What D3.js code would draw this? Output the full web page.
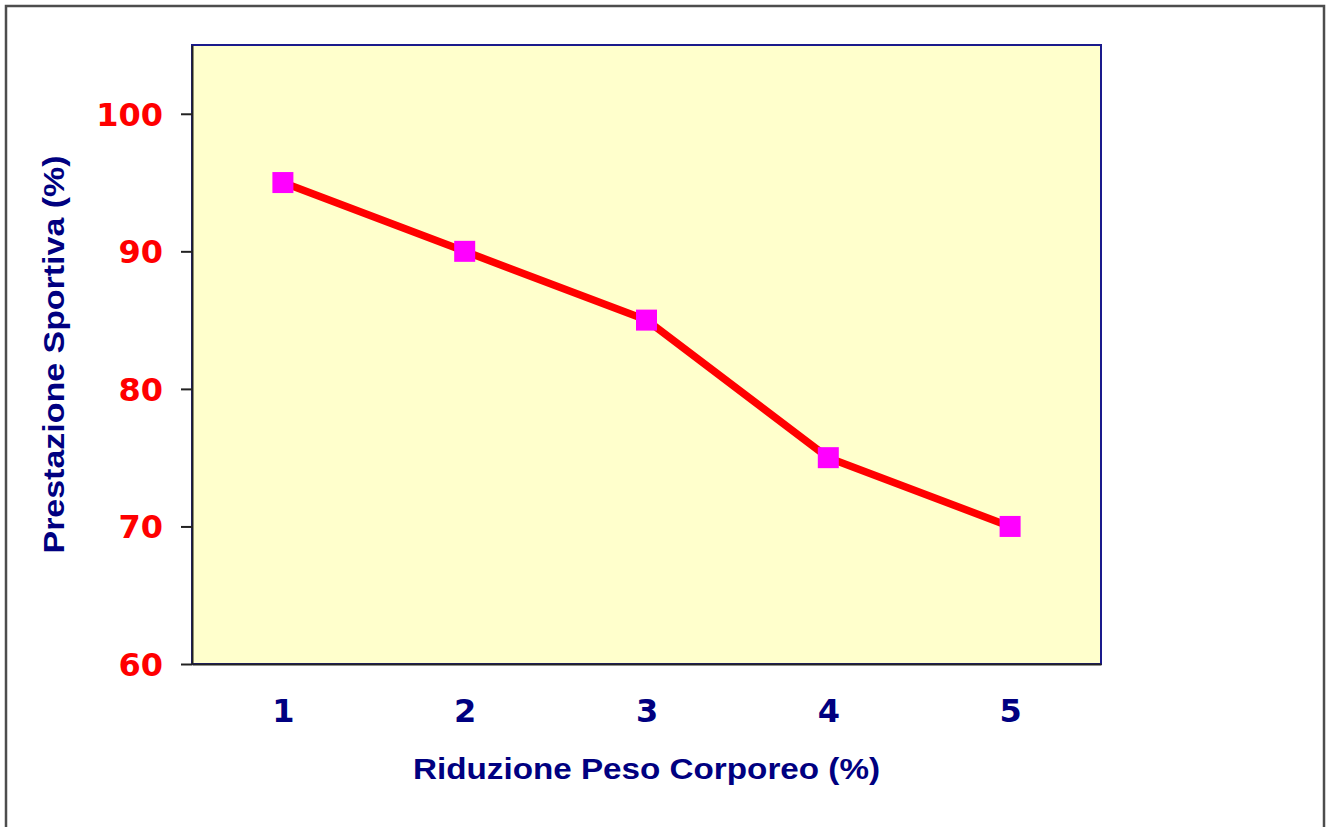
<!DOCTYPE html>
<html>
<head>
<meta charset="utf-8">
<script src="https://cdn.jsdelivr.net/npm/d3@7"></script>
<style>
  html, body { margin: 0; padding: 0; background: #fff; }
  svg { display: block; }
</style>
</head>
<body>
<div id="chart"></div>
<script>
// dati
var categories = [1, 2, 3, 4, 5];
var values = [95, 90, 85, 75, 70];
var yTicks = [60, 70, 80, 90, 100];

var W = 1330, H = 827;
var plot = { left: 192, top: 45, right: 1101, bottom: 664 };

var svg = d3.select("#chart").append("svg").attr("width", W).attr("height", H);

// cornice esterna
svg.append("rect")
  .attr("x", 6).attr("y", 6).attr("width", 1318).attr("height", 830)
  .attr("fill", "#fff").attr("stroke", "#4d4d4d").attr("stroke-width", 2.5);

var x = d3.scalePoint().domain(categories).range([plot.left, plot.right]).padding(0.5);
var y = d3.scaleLinear().domain([60, 105]).range([plot.bottom, plot.top]);

// area del grafico
svg.append("rect")
  .attr("x", plot.left).attr("y", plot.top)
  .attr("width", plot.right - plot.left).attr("height", plot.bottom - plot.top)
  .attr("fill", "#ffffcc").attr("stroke", "#1a1a8c").attr("stroke-width", 2);

// asse Y
var yAxis = svg.append("g").attr("transform", "translate(" + plot.left + ",0)")
  .call(d3.axisLeft(y).tickValues(yTicks).tickSize(11).tickPadding(18).tickSizeOuter(0));
yAxis.select(".domain").attr("stroke", "#222").attr("stroke-width", 2);
yAxis.selectAll(".tick line").attr("stroke", "#222").attr("stroke-width", 2);
yAxis.selectAll("text")
  .attr("fill", "#ff0000").attr("font-family", "DejaVu Sans").attr("font-weight", "bold")
  .attr("font-size", 32).attr("dy", "0.36em");

// asse X (solo etichette)
var xAxis = svg.append("g").attr("transform", "translate(0," + plot.bottom + ")")
  .call(d3.axisBottom(x).tickSize(0).tickPadding(35));
xAxis.select(".domain").attr("stroke", "#222").attr("stroke-width", 2);
xAxis.selectAll("text")
  .attr("fill", "#000080").attr("font-family", "DejaVu Sans").attr("font-weight", "bold")
  .attr("font-size", 32);

// titoli assi
svg.append("text")
  .attr("x", (plot.left + plot.right) / 2).attr("y", 779)
  .attr("text-anchor", "middle")
  .attr("fill", "#000080").attr("font-family", "Liberation Sans").attr("font-weight", "bold")
  .attr("font-size", 29)
  .attr("textLength", 467).attr("lengthAdjust", "spacingAndGlyphs")
  .text("Riduzione Peso Corporeo (%)");

svg.append("text")
  .attr("transform", "translate(64," + (plot.top + plot.bottom) / 2 + ") rotate(-90)")
  .attr("text-anchor", "middle")
  .attr("fill", "#000080").attr("font-family", "Liberation Sans").attr("font-weight", "bold")
  .attr("font-size", 29)
  .attr("textLength", 398).attr("lengthAdjust", "spacingAndGlyphs")
  .text("Prestazione Sportiva (%)");

// serie
var line = d3.line().x(function(d, i) { return x(categories[i]); }).y(function(d) { return y(d); });
svg.append("path").datum(values)
  .attr("d", line).attr("fill", "none")
  .attr("stroke", "#ff0000").attr("stroke-width", 7.5).attr("stroke-linejoin", "round");

var s = 21;
svg.selectAll(".marker").data(values).enter().append("rect")
  .attr("class", "marker")
  .attr("x", function(d, i) { return x(categories[i]) - s / 2; })
  .attr("y", function(d) { return y(d) - s / 2; })
  .attr("width", s).attr("height", s)
  .attr("fill", "#ff00ff");
</script>
</body>
</html>
